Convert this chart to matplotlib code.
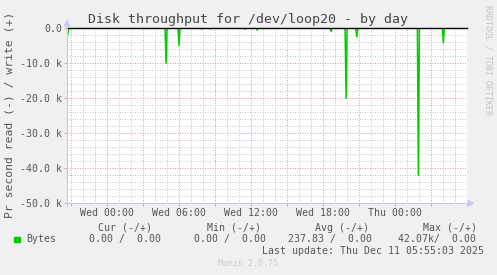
from matplotlib import use
use('Agg')

import matplotlib.pyplot as plt
from matplotlib.patches import Rectangle, Polygon
from matplotlib.lines import Line2D
from matplotlib.ticker import MultipleLocator, FuncFormatter

# spikes of the read rate (hours from Wed 00:00, bytes per second, read = negative)
spike_hours = [-3.25, 4.94, 6.02, 7.91, 8.60, 11.52, 12.54, 18.68, 19.93, 20.82, 25.95, 28.03]
spike_bytes = [-2000, -10100, -5000, -300, -300, -400, -600, -1000, -20100, -2500, -42070, -4200]

title = 'Disk throughput for /dev/loop20 - by day'
ylabel = 'Pr second read (-) / write (+)'
legend_name = 'Bytes'
legend_heads = ['Cur (-/+)', 'Min (-/+)', 'Avg (-/+)', 'Max (-/+)']
legend_vals = ['0.00 /  0.00', '0.00 /  0.00', '237.83 /  0.00', '42.07k/  0.00']
last_update = 'Last update: Thu Dec 11 05:55:03 2025'
version = 'Munin 2.0.75'
day_names = ['Tue', 'Wed', 'Thu']

W, H = 497, 275
x0, x1 = -3.31, 30.0

def px(x, y):
  return (x / W, 1 - y / H)

mono = 'DejaVu Sans Mono'
txt = '#555555'
green = '#00cc00'
axcol = '#c8c8f4'

fig = plt.figure(figsize=(W / 100, H / 100), dpi=100, facecolor='#f0f0f0')
ax = fig.add_axes([67 / W, 1 - 203 / H, 400 / W, 175 / H])
ax.set_facecolor('white')
for s in ax.spines.values():
  s.set_visible(False)

# build the line from the spikes, one sample is 5 minutes
step = 5 / 60.
t = [x0]
v = [0]
for h, b in zip(spike_hours, spike_bytes):
  t += [h - step, h, h + step]
  v += [0, b, 0]
t.append(x1)
v.append(0)

ax.plot(t, v, color=green, lw=1.1, zorder=3)
ax.axhline(0, color='black', lw=1, zorder=4, clip_on=False)

ax.set_xlim(x0, x1)
ax.set_ylim(-50000, 0)

ax.xaxis.set_major_locator(MultipleLocator(3))
ax.xaxis.set_minor_locator(MultipleLocator(1))
ax.yaxis.set_major_locator(MultipleLocator(10000))
ax.yaxis.set_minor_locator(MultipleLocator(2000))

def xfmt(h, pos):
  h = int(round(h))
  if h % 6 or h >= 30:
    return ''
  return '%s %02d:00' % (day_names[h // 24 + 1], h % 24)

def yfmt(val, pos):
  if abs(val) < 1:
    return '0.0'
  return '%.1f k' % (val / 1000.)

ax.xaxis.set_major_formatter(FuncFormatter(xfmt))
ax.yaxis.set_major_formatter(FuncFormatter(yfmt))

ax.grid(which='minor', color='#c8c8c8', lw=0.72, ls=(0, (1, 1.5)), zorder=1)
ax.grid(which='major', color='#f09a9a', lw=0.72, ls=(0, (1, 1.5)), zorder=2)
ax.set_axisbelow(True)

ax.tick_params(which='major', length=2, width=0.7, color='#eda0a0', pad=1.5,
               labelsize=7.1, labelcolor=txt)
ax.tick_params(which='minor', length=0)
for lab in ax.get_xticklabels() + ax.get_yticklabels():
  lab.set_family(mono)

# axis lines with arrows
fig.add_artist(Line2D([67 / W, 67 / W], [1 - 206 / H, 1 - 24 / H], color=axcol, lw=0.8))
fig.add_artist(Line2D([64 / W, 470 / W], [1 - 203.3 / H, 1 - 203.3 / H], color=axcol, lw=0.8))
fig.add_artist(Polygon([px(64.5, 26), px(69.5, 26), px(67, 20.5)], closed=True, color=axcol))
fig.add_artist(Polygon([px(468, 200.5), px(468, 206), px(473.5, 203.3)], closed=True, color=axcol))

# texts
fig.text(*px(247.5, 22.5), title, ha='center', va='baseline', family=mono,
         fontsize=9.5, color='#444444')
fig.text(*px(9.5, 115), ylabel, ha='center', va='center', rotation=90,
         family=mono, fontsize=8.2, color=txt)
fig.text(*px(488, 60), 'RRDTOOL / TOBI OETIKER', ha='center', va='center',
         rotation=-90, family=mono, fontsize=6, color='#c4c4c4')

head_x = [98.3, 206.7, 315, 423.3]
val_x = [89, 194.3, 287.7, 397.7]
for hx, hs in zip(head_x, legend_heads):
  fig.text(*px(hx, 227.7), hs, ha='left', va='center', family=mono,
           fontsize=7.1, color=txt)
for vx, vs in zip(val_x, legend_vals):
  fig.text(*px(vx, 239.3), vs, ha='left', va='center', family=mono,
           fontsize=7.1, color=txt)

fig.add_artist(Rectangle(px(14, 242.3), 6 / W, 5 / H, color=green))
fig.text(*px(26.7, 239.3), legend_name, ha='left', va='center', family=mono,
         fontsize=7.1, color=txt)
fig.text(*px(261.7, 251), last_update, ha='left', va='center', family=mono,
         fontsize=7.1, color=txt)
fig.text(*px(217.7, 264), version, ha='left', va='center', family=mono,
         fontsize=6, color='#cccccc')

plt.savefig('out.png', dpi=100, facecolor=fig.get_facecolor())
